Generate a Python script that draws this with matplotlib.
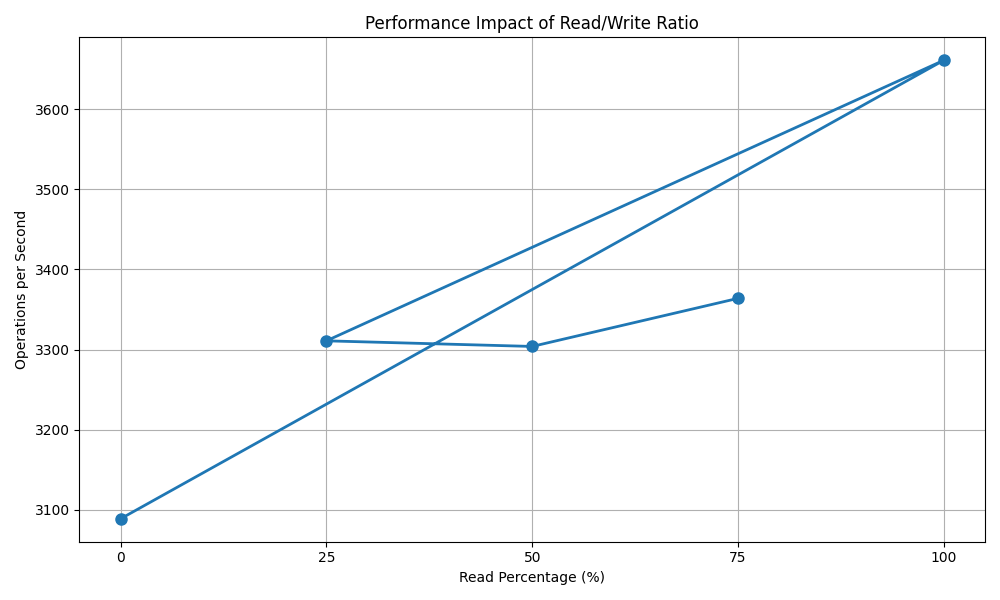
import matplotlib
matplotlib.use("Agg")
import matplotlib.pyplot as plt

read_pct = [0, 100, 25, 50, 75]
ops = [3089, 3661, 3311, 3304, 3364]
ticks = [0, 25, 50, 75, 100]

fig, ax = plt.subplots(figsize=(10, 6), dpi=100)
ax.plot(read_pct, ops, marker='o', markersize=8, linewidth=2, color='#1f77b4')
ax.set_xticks(ticks)
ax.set_xlabel('Read Percentage (%)')
ax.set_ylabel('Operations per Second')
ax.set_title('Performance Impact of Read/Write Ratio')
ax.grid(True)
fig.tight_layout()
fig.savefig('out.png')
